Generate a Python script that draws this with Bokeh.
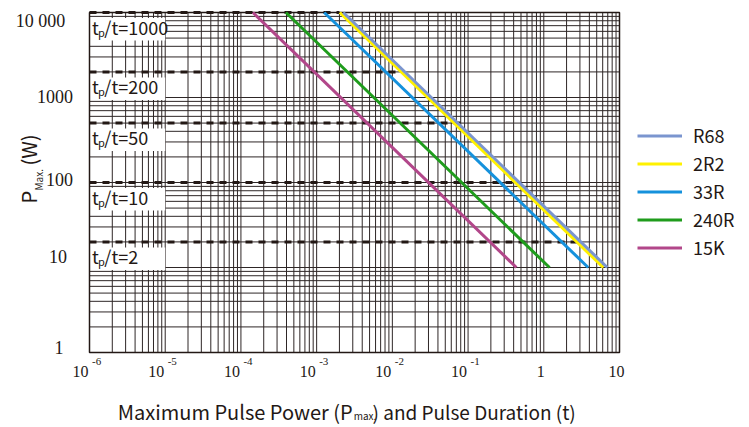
import math
from bokeh.plotting import figure
from bokeh.models import (ColumnDataSource, Legend, LegendItem, Label, LabelSet)
from bokeh.core.properties import value
from bokeh.embed import file_html
from bokeh.resources import INLINE

FONT = "Noto Sans CJK SC"
INK = "#231815"
GRID = "#2e2626"

# ---------------- data ----------------
series_names = ["R68", "2R2", "33R", "240R", "15K"]
series_colors = ["#7b95cf", "#fff100", "#1591dc", "#1f9c1c", "#b2478a"]
t_start = [2.25e-3, 2.02e-3, 1.26e-3, 3.93e-4, 1.44e-4]
t_end = [6.9, 6.1, 3.86, 1.19, 0.435]
p_start = [10000, 10000, 10000, 10000, 10000]
p_end = [10, 10, 10, 10, 10]

ratio_values = ["1000", "200", "50", "10", "2"]
ratio_levels = [10000, 2000, 500, 100, 20]
ratio_line_end = [2.0e-3, 1.14e-2, 8.0e-2, 0.43, 2.8]

x_tick_values = [1e-6, 1e-5, 1e-4, 1e-3, 1e-2, 1e-1, 1, 10]
x_tick_bases = ["10", "10", "10", "10", "10", "10", "1", "10"]
x_tick_exps = ["-6", "-5", "-4", "-3", "-2", "-1", "", ""]
y_tick_values = [1, 10, 100, 1000, 10000]
y_tick_labels = ["1", "10", "100", "1000", "10 000"]

# layout nudges for the y tick labels (screen px)
y_label_dx = [-26, -22.6, -16.6, -16.6, -24.3]
y_label_dy = [-1, 5, -3, -5, -14]

# ---------------- layout ----------------
W, H = 749, 427
PX_L, PX_R, PX_T, PX_B = 89, 619, 12, 352   # plot box inside the canvas

X0, X1 = x_tick_values[0], x_tick_values[-1]
Y0, Y1 = y_tick_values[0], y_tick_values[-1]
lx0, lx1 = math.log10(X0), math.log10(X1)
ly0, ly1 = math.log10(Y0), math.log10(Y1)
ppd_x = (PX_R - PX_L) / (lx1 - lx0)
ppd_y = (PX_B - PX_T) / (ly1 - ly0)

x_range = (10 ** (lx0 - PX_L / ppd_x), 10 ** (lx1 + (W - PX_R) / ppd_x))
y_range = (10 ** (ly0 - (H - PX_B) / ppd_y), 10 ** (ly1 + PX_T / ppd_y))

p = figure(width=W, height=H, x_axis_type="log", y_axis_type="log",
           x_range=x_range, y_range=y_range,
           output_backend="svg", toolbar_location=None,
           min_border=0)
p.xaxis.visible = False
p.yaxis.visible = False
p.xgrid.visible = False
p.ygrid.visible = False
p.background_fill_color = "white"
p.border_fill_color = "white"
p.outline_line_color = None

# grid lines (decades + 2..9 minors), bounded to the plot box
xdec = list(range(int(round(lx0)), int(round(lx1)) + 1))
ydec = list(range(int(round(ly0)), int(round(ly1)) + 1))
xg = [10.0 ** k for k in xdec] + [m * 10.0 ** k for k in xdec[:-1] for m in range(2, 10)]
yg = [10.0 ** k for k in ydec] + [m * 10.0 ** k for k in ydec[:-1] for m in range(2, 10)]
p.segment(x0=xg, y0=[Y0] * len(xg), x1=xg, y1=[Y1] * len(xg), line_color=GRID, line_width=1)
p.segment(x0=[X0] * len(yg), y0=yg, x1=[X1] * len(yg), y1=yg, line_color=GRID, line_width=1)

# white boxes behind the ratio labels
fac_top = 10 ** (-5.5 / ppd_y)
fac_bot = 10 ** (-28 / ppd_y)
n_r = len(ratio_levels)
box_src = ColumnDataSource(dict(
    left=[X0] * n_r, right=[x_tick_values[1]] * n_r,
    top=[v * fac_top for v in ratio_levels], bottom=[v * fac_bot for v in ratio_levels]))
p.quad(left="left", right="right", top="top", bottom="bottom", source=box_src,
       fill_color="white", line_color=None)

# plot border
p.quad(left=[X0], right=[X1], bottom=[Y0], top=[Y1], fill_color=None,
       line_color=INK, line_width=1.5)

# dashed level lines
p.segment(x0=[X0] * n_r, y0=ratio_levels, x1=ratio_line_end, y1=ratio_levels,
          line_color=INK, line_width=3, line_dash="7 6")

# ratio labels: t, subscript p, /t=N
p.text(x=[X0] * n_r, y=ratio_levels, text=["t"] * n_r,
       x_offset=2.4, y_offset=14, text_font=value(FONT), text_font_size="18px",
       text_color=INK, text_baseline="alphabetic", text_align="left")
p.text(x=[X0] * n_r, y=ratio_levels, text=["p"] * n_r,
       x_offset=8.6, y_offset=19, text_font=value(FONT), text_font_size="11px",
       text_color=INK, text_baseline="alphabetic", text_align="left")
p.text(x=[X0] * n_r, y=ratio_levels, text=["/t=" + r for r in ratio_values],
       x_offset=14.8, y_offset=14, text_font=value(FONT), text_font_size="18px",
       text_color=INK, text_baseline="alphabetic", text_align="left")

# series (R68 drawn last so it sits on top of 2R2, as in the reference)
rends = {}
order = list(range(len(series_names)))[1:] + [0]
for i in order:
    rends[i] = p.line(x=[t_start[i], t_end[i]], y=[p_start[i], p_end[i]],
                      line_color=series_colors[i], line_width=3)

legend = Legend(items=[LegendItem(label=series_names[i], renderers=[rends[i]])
                       for i in range(len(series_names))],
                location=(637, H - 260), glyph_width=45, glyph_height=21, label_height=21,
                spacing=2, padding=0, margin=0, label_standoff=11,
                label_text_font=FONT, label_text_font_size="18px", label_text_color=INK,
                border_line_alpha=0, background_fill_alpha=0)
p.add_layout(legend)

# x tick labels
n_pow = sum(1 for e in x_tick_exps if e)
pow_src = ColumnDataSource(dict(x=x_tick_values[:n_pow], y=[Y0] * n_pow,
                                base=x_tick_bases[:n_pow], exp=x_tick_exps[:n_pow]))
plain_src = ColumnDataSource(dict(x=x_tick_values[n_pow:], y=[Y0] * (len(x_tick_values) - n_pow),
                                  base=x_tick_bases[n_pow:]))
p.add_layout(LabelSet(x="x", y="y", text="base", source=pow_src, text_align="right",
                      text_baseline="alphabetic", x_offset=-1, y_offset=-24.5,
                      text_font=FONT, text_font_size="16px", text_color=INK))
p.add_layout(LabelSet(x="x", y="y", text="exp", source=pow_src, text_align="left",
                      text_baseline="alphabetic", x_offset=2.5, y_offset=-12.5,
                      text_font=FONT, text_font_size="11px", text_color=INK))
p.add_layout(LabelSet(x="x", y="y", text="base", source=plain_src, text_align="center",
                      text_baseline="alphabetic", x_offset=-3, y_offset=-24.5,
                      text_font=FONT, text_font_size="16px", text_color=INK))

# y tick labels
ysrc = ColumnDataSource(dict(x=[X0] * len(y_tick_values), y=y_tick_values, text=y_tick_labels,
                             dx=y_label_dx, dy=y_label_dy))
p.add_layout(LabelSet(x="x", y="y", text="text", source=ysrc, text_align="right",
                      text_baseline="alphabetic", x_offset="dx", y_offset="dy",
                      text_font=FONT, text_font_size="18px", text_color=INK))

# y axis title: P_Max. (W)
p.add_layout(Label(x=X0, y=Y0, text="P", angle=math.pi / 2, text_align="left",
                   text_baseline="alphabetic", x_offset=-61.3, y_offset=149,
                   text_font=FONT, text_font_size="20px", text_color=INK))
p.add_layout(Label(x=X0, y=Y0, text="Max.", angle=math.pi / 2, text_align="left",
                   text_baseline="alphabetic", x_offset=-51, y_offset=162,
                   text_font=FONT, text_font_size="10px", text_color=INK))
p.add_layout(Label(x=X0, y=Y0, text="(W)", angle=math.pi / 2, text_align="left",
                   text_baseline="alphabetic", x_offset=-61.3, y_offset=187,
                   text_font=FONT, text_font_size="20px", text_color=INK))

# x axis title
p.add_layout(Label(x=X0, y=Y0, text="Maximum Pulse Power (P", text_align="right",
                   text_baseline="alphabetic", x_offset=263.2, y_offset=-58.5,
                   text_font=FONT, text_font_size="20px", text_color=INK))
p.add_layout(Label(x=X0, y=Y0, text="max.", text_align="left",
                   text_baseline="alphabetic", x_offset=264.2, y_offset=-62.5,
                   text_font=FONT, text_font_size="10px", text_color=INK))
p.add_layout(Label(x=X0, y=Y0, text=") and Pulse Duration (t)", text_align="left",
                   text_baseline="alphabetic", x_offset=283, y_offset=-58.5,
                   text_font=FONT, text_font_size="19px", text_color=INK))

open("out.html", "w").write(file_html(p, INLINE))
